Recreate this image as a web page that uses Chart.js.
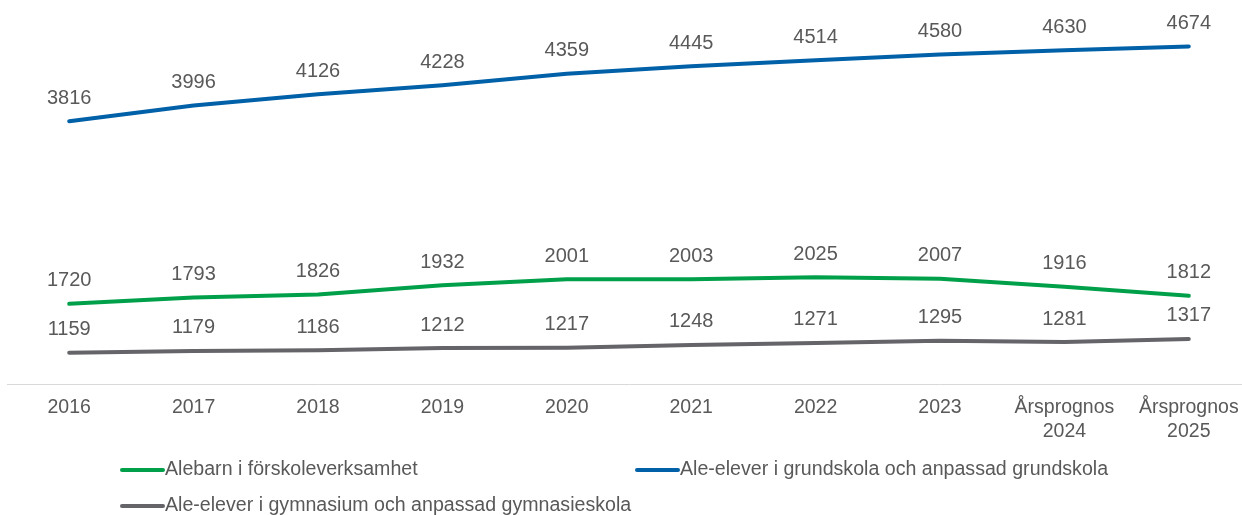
<!DOCTYPE html>
<html>
<head>
<meta charset="utf-8">
<script src="https://cdn.jsdelivr.net/npm/chart.js@4.4.1/dist/chart.umd.min.js"></script>
<style>
  html, body { margin: 0; padding: 0; background: #ffffff; overflow: hidden; }
  #wrap { position: absolute; left: 0; top: 0; width: 1252px; height: 515px; }
</style>
</head>
<body>
<div id="wrap"><canvas id="c"></canvas></div>
<script>
const categories = ['2016','2017','2018','2019','2020','2021','2022','2023',['Årsprognos','2024'],['Årsprognos','2025']];
const seriesNames = ['Alebarn i förskoleverksamhet','Ale-elever i grundskola och anpassad grundskola','Ale-elever i gymnasium och anpassad gymnasieskola'];
const forskola = [1720,1793,1826,1932,2001,2003,2025,2007,1916,1812];
const grundskola = [3816,3996,4126,4228,4359,4445,4514,4580,4630,4674];
const gymnasium = [1159,1179,1186,1212,1217,1248,1271,1295,1281,1317];
const colors = ['#00A04A','#0060A8','#646469'];

const TEXT = '#595959';
const FONT = '"Liberation Sans", Arial, sans-serif';

const labelPlugin = {
  id: 'valueLabels',
  afterDatasetsDraw(chart) {
    const ctx = chart.ctx;
    ctx.save();
    ctx.font = '20px ' + FONT;
    ctx.fillStyle = TEXT;
    ctx.textAlign = 'center';
    ctx.textBaseline = 'middle';
    chart.data.datasets.forEach((ds, i) => {
      const meta = chart.getDatasetMeta(i);
      meta.data.forEach((pt, j) => {
        ctx.fillText(String(ds.data[j]), pt.x, pt.y - 23);
      });
    });
    ctx.restore();
  }
};

const legendPlugin = {
  id: 'customLegend',
  afterDraw(chart) {
    const ctx = chart.ctx;
    const items = [
      {i: 0, x: 120, y: 470},
      {i: 1, x: 635, y: 470},
      {i: 2, x: 120, y: 506}
    ];
    ctx.save();
    ctx.font = '19.6px ' + FONT;
    ctx.textBaseline = 'middle';
    ctx.textAlign = 'left';
    items.forEach(it => {
      const ds = chart.data.datasets[it.i];
      ctx.strokeStyle = ds.borderColor;
      ctx.lineWidth = 4;
      ctx.lineCap = 'round';
      ctx.beginPath();
      ctx.moveTo(it.x + 2, it.y);
      ctx.lineTo(it.x + 43, it.y);
      ctx.stroke();
      ctx.fillStyle = TEXT;
      ctx.fillText(ds.label, it.x + 45, it.y);
    });
    ctx.restore();
  }
};

new Chart(document.getElementById('c'), {
  type: 'line',
  data: {
    labels: categories,
    datasets: [
      {label: seriesNames[0], data: forskola, borderColor: colors[0], backgroundColor: colors[0]},
      {label: seriesNames[1], data: grundskola, borderColor: colors[1], backgroundColor: colors[1]},
      {label: seriesNames[2], data: gymnasium, borderColor: colors[2], backgroundColor: colors[2]}
    ]
  },
  options: {
    responsive: true,
    maintainAspectRatio: false,
    animation: false,
    devicePixelRatio: 1,
    layout: { padding: { top: 18, left: 7, right: 1, bottom: 0 } },
    elements: {
      line: { borderWidth: 4, tension: 0, borderCapStyle: 'round', borderJoinStyle: 'round' },
      point: { radius: 0, hoverRadius: 0 }
    },
    plugins: { legend: { display: false }, tooltip: { enabled: false } },
    scales: {
      y: { display: false, min: 800, max: 5000 },
      x: {
        offset: true,
        grid: { display: false, drawTicks: false },
        border: { display: true, color: '#D9D9D9', width: 1 },
        ticks: { color: TEXT, font: { size: 19.5, family: FONT, lineHeight: 1.23 }, padding: 12, maxRotation: 0, autoSkip: false },
        afterFit(scale) { scale.height = 131; }
      }
    }
  },
  plugins: [labelPlugin, legendPlugin]
});
</script>
</body>
</html>
